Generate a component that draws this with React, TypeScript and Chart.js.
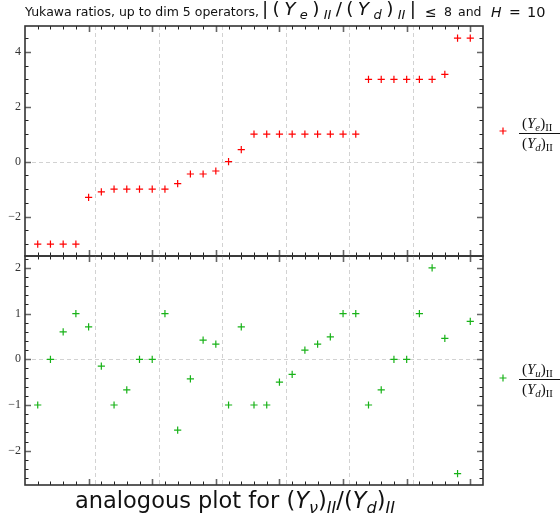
import React, { useEffect, useRef } from 'react';
import { Chart, registerables } from 'chart.js';

Chart.register(...registerables);

// ---- data ----
const topValues = [-3, -3, -3, -3, -1.3, -1.1, -1, -1, -1, -1, -1, -0.8, -0.45, -0.45, -0.34, 0, 0.44, 1, 1, 1, 1, 1, 1, 1, 1, 1, 3, 3, 3, 3, 3, 3, 3.18, 4.5, 4.5];
const bottomValues = [-1, 0, 0.6, 1, 0.71, -0.15, -1, -0.67, 0, 0, 1, -1.55, -0.43, 0.42, 0.33, -1, 0.71, -1, -1, -0.5, -0.33, 0.2, 0.33, 0.49, 1, 1, -1, -0.67, 0, 0, 1, 2, 0.46, -2.5, 0.83];
const pointIndex = topValues.map((_, i) => i + 1);

const xMajorTicks = [5, 10, 15, 20, 25, 30, 35];
const xGridLines = [5.5, 10.5, 15.5, 20.5, 25.5, 30.5];
const topYLabels = [-2, 0, 2, 4];
const bottomYLabels = [-2, -1, 0, 1, 2];
const topYMinorStep = 0.5;
const bottomYMinorStep = 0.2;

const RED = '#ff0000';
const GREEN = 'rgb(24,178,24)';

function makeFramePlugin(yMinorStep: number, yMajors: number[], legendColor: string, legendY: number) {
  return {
    id: 'frameTicks',
    beforeDatasetsDraw(chart: any) {
      const { ctx, chartArea: a, scales } = chart;
      const x = scales.x, y = scales.y;
      ctx.save();
      ctx.strokeStyle = '#d2d2d2';
      ctx.lineWidth = 1;
      ctx.setLineDash([4, 3]);
      xGridLines.forEach((v) => {
        const px = Math.round(x.getPixelForValue(v)) + 0.5;
        ctx.beginPath(); ctx.moveTo(px, a.top); ctx.lineTo(px, a.bottom); ctx.stroke();
      });
      const py = Math.round(y.getPixelForValue(0)) + 0.5;
      ctx.beginPath(); ctx.moveTo(a.left, py); ctx.lineTo(a.right, py); ctx.stroke();
      ctx.restore();
    },
    afterDraw(chart: any) {
      const { ctx, chartArea: a, scales } = chart;
      const x = scales.x, y = scales.y;
      ctx.save();
      for (let v = Math.ceil(x.min); v <= x.max; v++) {
        if (v <= x.min || v >= x.max) continue;
        const major = xMajorTicks.includes(v);
        const len = major ? 6 : 3.5;
        const px = Math.round(x.getPixelForValue(v)) + 0.5;
        ctx.strokeStyle = major ? '#666' : '#222';
        ctx.lineWidth = major ? 1.6 : 1;
        ctx.beginPath();
        ctx.moveTo(px, a.top); ctx.lineTo(px, a.top + len);
        ctx.moveTo(px, a.bottom); ctx.lineTo(px, a.bottom - len);
        ctx.stroke();
      }
      const start = Math.ceil(y.min / yMinorStep);
      const end = Math.floor(y.max / yMinorStep);
      for (let k = start; k <= end; k++) {
        const v = k * yMinorStep;
        const major = yMajors.some((m) => Math.abs(m - v) < 1e-6);
        const len = major ? 6 : 3.5;
        const py = Math.round(y.getPixelForValue(v)) + 0.5;
        ctx.strokeStyle = major ? '#666' : '#222';
        ctx.lineWidth = major ? 1.6 : 1;
        ctx.beginPath();
        ctx.moveTo(a.left, py); ctx.lineTo(a.left + len, py);
        ctx.moveTo(a.right, py); ctx.lineTo(a.right - len, py);
        ctx.stroke();
      }
      ctx.strokeStyle = '#333';
      ctx.lineWidth = 1.6;
      ctx.strokeRect(a.left, a.top, a.right - a.left, a.bottom - a.top);
      ctx.strokeStyle = legendColor;
      ctx.lineWidth = 1.2;
      const lx = 503, r = 3.5;
      ctx.beginPath();
      ctx.moveTo(lx - r, legendY); ctx.lineTo(lx + r, legendY);
      ctx.moveTo(lx, legendY - r); ctx.lineTo(lx, legendY + r);
      ctx.stroke();
      ctx.restore();
    },
  };
}

function makeConfig(values: number[], color: string, yMin: number, yMax: number, yLabels: number[], padTop: number, padBottom: number, plugin: any): any {
  return {
    type: 'scatter',
    data: {
      datasets: [
        {
          data: values.map((v, i) => ({ x: pointIndex[i], y: v })),
          pointStyle: 'cross',
          pointRadius: 3.6,
          pointBorderColor: color,
          pointBackgroundColor: color,
          pointBorderWidth: 1.2,
          showLine: false,
        },
      ],
    },
    options: {
      responsive: false,
      animation: false,
      events: [],
      layout: { padding: { left: 0, right: 77, top: padTop, bottom: padBottom } },
      plugins: { legend: { display: false }, tooltip: { enabled: false }, title: { display: false } },
      scales: {
        x: { type: 'linear', min: 0, max: 36, display: false },
        y: {
          type: 'linear',
          min: yMin,
          max: yMax,
          afterFit: (s: any) => { s.width = 25; },
          afterBuildTicks: (s: any) => { s.ticks = yLabels.map((v) => ({ value: v })); },
          grid: { display: false, drawTicks: false },
          border: { display: false },
          ticks: {
            padding: 4,
            color: '#333',
            font: { family: 'Liberation Serif', size: 12 },
            callback: (v: number) => (v < 0 ? '\u2212' + Math.abs(v) : String(v)),
          },
        },
      },
    },
    plugins: [plugin],
  };
}

const sub: React.CSSProperties = { fontSize: '0.72em', position: 'relative', top: '0.3em' };
const tsub: React.CSSProperties = { fontSize: 13, position: 'relative', top: 4, fontStyle: 'italic' };

function Frac({ top, bottom, y }: { top: React.ReactNode; bottom: React.ReactNode; y: number }) {
  return (
    <div style={{ position: 'absolute', left: 519, top: y - 19, fontFamily: 'Liberation Serif', fontSize: 15, lineHeight: '18px', whiteSpace: 'nowrap' }}>
      <div style={{ paddingLeft: 3, borderBottom: '1.3px solid #111', width: 60 }}>{top}</div>
      <div style={{ paddingLeft: 3 }}>{bottom}</div>
    </div>
  );
}

function At({ x, children, style }: { x: number; children: React.ReactNode; style?: React.CSSProperties }) {
  return <span style={{ position: 'absolute', left: x, top: 0, ...style }}>{children}</span>;
}

export default function App() {
  const c1 = useRef<HTMLCanvasElement>(null);
  const c2 = useRef<HTMLCanvasElement>(null);
  useEffect(() => {
    const ch1 = new Chart(c1.current!, makeConfig(topValues, RED, -3.435, 4.94, topYLabels, 26, 517 - 256, makeFramePlugin(topYMinorStep, topYLabels, RED, 131)));
    const ch2 = new Chart(c2.current!, makeConfig(bottomValues, GREEN, -2.75, 2.26, bottomYLabels, 256, 517 - 485, makeFramePlugin(bottomYMinorStep, bottomYLabels, GREEN, 378)));
    return () => { ch1.destroy(); ch2.destroy(); };
  }, []);
  const Y = <i>Y</i>;
  const m: React.CSSProperties = { fontSize: 18.5 };
  return (
    <div style={{ position: 'absolute', left: 0, top: 0, width: 560, height: 517, background: '#fff', overflow: 'hidden', color: '#111' }}>
      <canvas ref={c1} width={560} height={517} style={{ position: 'absolute', left: 0, top: 0 }} />
      <canvas ref={c2} width={560} height={517} style={{ position: 'absolute', left: 0, top: 0 }} />
      <div style={{ position: 'absolute', left: 0, top: 3, width: 560, height: 20, fontFamily: 'DejaVu Sans', fontSize: 12.5, whiteSpace: 'nowrap', lineHeight: '18px' }}>
        <At x={25}>Yukawa ratios, up to dim 5 operators,</At>
        <span style={{ position: 'absolute', left: 262, top: -3, width: 154, display: 'flex', justifyContent: 'space-between', alignItems: 'baseline', ...m }}>
          <span>|</span><span>(</span><i>Y</i><span style={tsub}>e</span><span>)</span><span style={tsub}>II</span><span>/</span><span>(</span><i>Y</i><span style={tsub}>d</span><span>)</span><span style={tsub}>II</span><span>|</span>
        </span>
        <At x={425} style={{ fontSize: 14 }}>≤</At>
        <At x={444}>8</At>
        <At x={458}>and</At>
        <At x={491} style={{ fontSize: 14, fontStyle: 'italic' }}>H</At>
        <At x={509} style={{ fontSize: 14 }}>=</At>
        <At x={527} style={{ fontSize: 14.5 }}>10</At>
      </div>
      <Frac y={132.5} top={<>({Y}<span style={sub}><i>e</i></span>)<span style={sub}>II</span></>} bottom={<>({Y}<span style={sub}><i>d</i></span>)<span style={sub}>II</span></>} />
      <Frac y={379} top={<>({Y}<span style={sub}><i>u</i></span>)<span style={sub}>II</span></>} bottom={<>({Y}<span style={sub}><i>d</i></span>)<span style={sub}>II</span></>} />
      <div style={{ position: 'absolute', left: 75, top: 486, fontFamily: 'DejaVu Sans', fontSize: 22.5, whiteSpace: 'nowrap', lineHeight: '28px' }}>
        analogous plot for ({Y}<span style={sub}><i>ν</i></span>)<span style={sub}><i>II</i></span>/({Y}<span style={sub}><i>d</i></span>)<span style={sub}><i>II</i></span>
      </div>
    </div>
  );
}
